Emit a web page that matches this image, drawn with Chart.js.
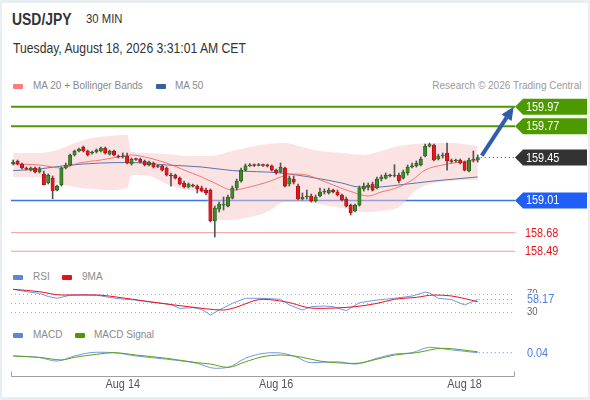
<!DOCTYPE html>
<html>
<head>
<meta charset="utf-8">
<script src="https://cdn.jsdelivr.net/npm/chart.js@4.4.0/dist/chart.umd.min.js"></script>
<style>
  body { margin: 0; width: 590px; height: 400px; background: #e9eef2; position: relative; overflow: hidden;
         font-family: "Liberation Sans", Arial, sans-serif; }
  #frame { position: absolute; left: 2px; top: 3px; width: 586px; height: 394px; background: #fff; }
  canvas { position: absolute; left: 0; }
  .t { position: absolute; white-space: nowrap; line-height: 1; transform: scaleX(.87); transform-origin: 0 0; }
  .sw { position: absolute; width: 10px; height: 5px; border-radius: 1px; }
</style>
</head>
<body>
<div id="frame"></div>

<div class="t" style="left:12px;top:11.5px;font-size:16px;font-weight:bold;color:#333">USD/JPY</div>
<div class="t" style="left:86px;top:12.3px;font-size:13px;color:#333">30 MIN</div>
<div class="t" style="left:13px;top:41.4px;font-size:14px;color:#333">Tuesday, August 18, 2026 3:31:01 AM CET</div>

<div class="sw" style="left:13px;top:84px;background:#ff7d7d"></div>
<div class="t" style="left:33px;top:80.3px;font-size:11.5px;color:#8a8a8a">MA 20 + Bollinger Bands</div>
<div class="sw" style="left:156px;top:84px;background:#3a5f9a"></div>
<div class="t" style="left:175px;top:80.3px;font-size:11.5px;color:#8a8a8a">MA 50</div>
<div class="t" style="right:9px;top:80.3px;font-size:11.5px;color:#9a9a9a;transform-origin:100% 0">Research © 2026 Trading Central</div>

<div class="sw" style="left:13px;top:275px;background:#5a86e0"></div>
<div class="t" style="left:33px;top:271px;font-size:11.5px;color:#8a8a8a">RSI</div>
<div class="sw" style="left:62px;top:275px;background:#e8101a"></div>
<div class="t" style="left:82px;top:271px;font-size:11.5px;color:#8a8a8a">9MA</div>

<div class="sw" style="left:13px;top:332.5px;background:#5a86e0"></div>
<div class="t" style="left:33px;top:328.6px;font-size:11.5px;color:#8a8a8a">MACD</div>
<div class="sw" style="left:75px;top:332.5px;background:#4c9a00"></div>
<div class="t" style="left:94px;top:328.6px;font-size:11.5px;color:#8a8a8a">MACD Signal</div>

<canvas id="main" width="590" height="180" style="top:90px"></canvas>
<canvas id="rsi" width="590" height="45" style="top:280px"></canvas>
<canvas id="macd" width="590" height="60" style="top:338px"></canvas>

<script>
// ---- candles (30 min bars, index 0..106) ----
const opens = [159.384,159.415,159.384,159.343,159.322,159.343,159.302,159.281,159.189,159.24,
  159.117,159.169,159.343,159.374,159.476,159.517,159.558,159.517,159.497,159.507,
  159.517,159.548,159.486,159.517,159.466,159.456,159.466,159.384,159.435,159.435,
  159.415,159.374,159.394,159.364,159.364,159.343,159.271,159.271,159.24,159.189,
  159.148,159.169,159.158,159.138,159.117,159.117,158.8,158.922,158.963,158.953,
  159.035,159.138,159.21,159.322,159.364,159.374,159.369,159.374,159.369,159.364,
  159.322,159.302,159.343,159.179,159.23,159.158,159.025,159.046,159.056,159.005,
  159.056,159.097,159.087,159.117,159.097,159.066,159.025,158.963,158.902,158.963,
  159.128,159.148,159.179,159.138,159.23,159.24,159.271,159.261,159.271,159.24,
  159.292,159.353,159.364,159.374,159.466,159.568,159.579,159.435,159.466,159.497,
  159.415,159.415,159.425,159.404,159.312,159.425,159.425];
const highs = [159.425,159.425,159.394,159.353,159.353,159.353,159.353,159.312,159.281,159.261,
  159.169,159.353,159.394,159.486,159.527,159.548,159.568,159.527,159.517,159.538,
  159.558,159.558,159.527,159.527,159.476,159.497,159.497,159.445,159.445,159.445,
  159.425,159.415,159.404,159.374,159.374,159.353,159.292,159.281,159.251,159.21,
  159.189,159.179,159.169,159.158,159.138,159.128,158.953,158.994,159.046,159.066,
  159.158,159.23,159.343,159.384,159.389,159.384,159.389,159.384,159.384,159.374,
  159.333,159.394,159.353,159.261,159.261,159.179,159.087,159.117,159.076,159.066,
  159.138,159.128,159.138,159.128,159.117,159.076,159.046,158.974,158.974,159.158,
  159.189,159.189,159.199,159.251,159.271,159.292,159.281,159.377,159.292,159.322,
  159.374,159.394,159.415,159.456,159.589,159.599,159.589,159.486,159.497,159.599,
  159.435,159.435,159.435,159.415,159.445,159.517,159.476];
const lows = [159.374,159.374,159.333,159.322,159.312,159.292,159.292,159.169,159.179,159.028,
  159.107,159.158,159.333,159.364,159.466,159.507,159.507,159.466,159.486,159.497,
  159.507,159.486,159.476,159.466,159.445,159.445,159.384,159.374,159.42,159.394,
  159.364,159.364,159.343,159.348,159.312,159.261,159.158,159.23,159.169,159.138,
  159.138,159.148,159.087,159.097,159.066,158.79,158.636,158.892,158.912,158.943,
  159.025,159.117,159.199,159.312,159.358,159.358,159.364,159.358,159.353,159.312,
  159.281,159.292,159.148,159.158,159.179,159.015,159.015,159.025,158.994,158.994,
  159.046,159.076,159.076,159.087,159.056,159.005,158.943,158.861,158.892,158.953,
  159.107,159.117,159.107,159.128,159.21,159.23,159.251,159.251,159.189,159.23,
  159.271,159.343,159.353,159.364,159.456,159.558,159.415,159.425,159.445,159.322,
  159.394,159.404,159.384,159.312,159.302,159.404,159.404];
const closes = [159.404,159.384,159.343,159.333,159.343,159.302,159.333,159.172,159.271,159.107,
  159.158,159.343,159.374,159.476,159.517,159.538,159.517,159.476,159.507,159.527,
  159.548,159.497,159.517,159.476,159.456,159.466,159.394,159.435,159.43,159.404,
  159.374,159.404,159.353,159.358,159.322,159.271,159.261,159.24,159.179,159.148,
  159.179,159.158,159.128,159.107,159.087,158.8,158.933,158.974,158.969,159.046,
  159.138,159.21,159.322,159.364,159.374,159.369,159.374,159.369,159.364,159.322,
  159.292,159.353,159.158,159.24,159.199,159.025,159.046,159.056,159.005,159.046,
  159.097,159.107,159.117,159.097,159.066,159.015,158.953,158.882,158.963,159.138,
  159.158,159.169,159.117,159.23,159.251,159.271,159.261,159.271,159.21,159.302,
  159.353,159.364,159.394,159.435,159.568,159.584,159.425,159.466,159.471,159.415,
  159.41,159.42,159.394,159.322,159.425,159.435,159.45];

// ---- overlays ----
const ma20Idx = [0,6,11,15,20,24,27,31,35,39,43,46,50,54,58,64,67,69,73,78,81,84,88,91,94,98,102,106];
const ma20 = [159.384,159.374,159.343,159.394,159.425,159.456,159.476,159.445,159.394,159.322,159.251,159.189,
  159.117,159.148,159.199,159.281,159.271,159.24,159.169,159.087,159.056,159.097,159.148,159.22,159.322,159.374,159.404,159.425];
const ma50Idx = [0,6,12,20,27,35,43,50,61,69,75,79,83,88,96,106];
const ma50 = [159.317,159.333,159.369,159.394,159.399,159.374,159.353,159.317,159.292,159.24,159.189,159.148,159.148,159.169,159.21,159.251];
const bandIdx = [0,6,10,14,18,22,26,27,31,35,40,44,45,50,54,58,62,66,70,75,80,84,88,92,96,100,106];
const bbUpper = [159.497,159.497,159.527,159.599,159.65,159.671,159.681,159.507,159.497,159.486,159.466,159.466,159.466,
  159.517,159.558,159.589,159.599,159.558,159.517,159.497,159.476,159.517,159.568,159.589,159.599,159.599,159.568];
const bbLower = [159.251,159.251,159.189,159.148,159.128,159.117,159.138,159.271,159.261,159.179,159.117,159.087,158.81,
  158.81,158.841,158.892,158.994,158.994,158.974,158.933,158.892,158.902,158.943,159.117,159.189,159.21,159.22];

// ---- levels & projection ----
const levels = [159.97, 159.77, 159.01, 158.68, 158.49];
const arrowTo = [114.2, 159.97];

// ---- RSI ----
const rsiIdx = [0,3,6,8,10,13,16,19,22,25,28,31,33,36,38,41,43,45,47,50,53,57,61,63,66,68,71,73,76,79,83,87,91,94,95,97,100,103,106];
const rsi = [81.3,76,72,65,61,68,69,68,63,59,57,53,51,47,38,40,36,23.2,34.5,49.5,61,61,58.7,46,34.5,42,43.6,42,33,
  51,57,61,66,75,73,61,58,46,58.17];
const rsiMaIdx = [0,6,11,19,23,31,40,48,50,57,62,69,78,83,87,92,96,100,106];
const rsiMa = [81.3,75.9,68.4,68.4,64.6,53.3,42,34.5,38.2,58.7,53.3,38.2,42,49.5,58.7,63.1,68.4,66.2,53.3];
const rsiGuides = [30, 50, 70];

// ---- MACD ----
const macdIdx = [0,6,10,14,19,23,28,35,42,46,49,53,57,60,64,68,74,78,83,87,91,95,100,106];
const macd = [0.026,0.019,0.004,0.026,0.042,0.04,0.026,0.012,-0.006,-0.027,-0.023,0.016,0.037,0.04,0.026,-0.003,
  0.001,-0.009,0.016,0.034,0.04,0.063,0.052,0.04];
const signalIdx = [0,6,11,14,19,23,28,35,42,45,49,53,57,61,66,70,78,83,87,92,98,106];
const signal = [0.026,0.02,0.009,0.02,0.033,0.04,0.03,0.016,-0.003,-0.009,-0.023,0.001,0.023,0.03,0.02,0.004,
  -0.006,0.012,0.03,0.04,0.059,0.044];

// ---- x axis ----
const tickIdx = [25, 60, 103];
const tickLabels = ['Aug 14', 'Aug 16', 'Aug 18'];

// styles
const FONT = '"Liberation Sans", Arial, sans-serif';
const SQUEEZE = 0.87;
const UP = '#3c8a2a', UP_EDGE = '#24541a', DOWN = '#e5161e', DOWN_EDGE = '#a30d12';
const levelStyles = [
  { line: '#4c9a00', width: 2, tag: '#4c9a00' },
  { line: '#4c9a00', width: 2, tag: '#4c9a00' },
  { line: '#3b73e8', width: 1.5, tag: '#1f5ff5' },
  { line: '#f49a9a', width: 1, text: '#e8141c' },
  { line: '#f49a9a', width: 1, text: '#e8141c' }
];

Chart.defaults.font.family = FONT;

function pts(idx, vals) {
  return idx.map((x, k) => ({ x: x, y: vals[k] }));
}

function label(ctx, text, x, y, color, size, align) {
  ctx.save();
  ctx.translate(x, y);
  ctx.scale(SQUEEZE, 1);
  ctx.font = size + 'px ' + FONT;
  ctx.fillStyle = color;
  ctx.textAlign = align || 'left';
  ctx.textBaseline = 'middle';
  ctx.fillText(text, 0, 0);
  ctx.restore();
}

function tag(ctx, x, py, color, text) {
  ctx.fillStyle = color;
  ctx.beginPath();
  ctx.moveTo(x, py);
  ctx.lineTo(x + 8, py - 8);
  ctx.lineTo(x + 72, py - 8);
  ctx.lineTo(x + 72, py + 8);
  ctx.lineTo(x + 8, py + 8);
  ctx.closePath();
  ctx.fill();
  label(ctx, text, x + 11, py + 0.5, '#fff', 12.5);
}

function dotted(ctx, x0, x1, py, color) {
  ctx.save();
  ctx.strokeStyle = color;
  ctx.lineWidth = 1;
  ctx.setLineDash([1, 3]);
  ctx.beginPath();
  ctx.moveTo(x0, py);
  ctx.lineTo(x1, py);
  ctx.stroke();
  ctx.restore();
}

function baseOptions(yMin, yMax, pad) {
  return {
    responsive: false,
    animation: false,
    events: [],
    layout: { padding: pad },
    plugins: { legend: { display: false }, tooltip: { enabled: false } },
    scales: {
      x: { type: 'linear', min: -0.5, max: 114.5, offset: false, display: false },
      y: { min: yMin, max: yMax, display: false }
    }
  };
}

function lineSet(data, color, order, extra) {
  return Object.assign({
    type: 'line', data: data, borderColor: color, borderWidth: 1,
    pointRadius: 0, cubicInterpolationMode: 'monotone', fill: false, order: order
  }, extra || {});
}

// ---------- main price chart ----------
const mainDecor = {
  id: 'mainDecor',
  beforeDatasetsDraw(chart) {
    const { ctx, chartArea: a, scales: { y } } = chart;
    levels.forEach((v, k) => {
      const st = levelStyles[k];
      const py = y.getPixelForValue(v);
      ctx.save();
      ctx.strokeStyle = st.line;
      ctx.lineWidth = st.width;
      ctx.beginPath();
      ctx.moveTo(a.left, py);
      ctx.lineTo(a.right, py);
      ctx.stroke();
      ctx.restore();
    });
  },
  afterDraw(chart) {
    const { ctx, chartArea: a, scales: { x, y } } = chart;
    const last = closes.length - 1;
    const lx = x.getPixelForValue(last);
    const ly = y.getPixelForValue(closes[last]);

    levels.forEach((v, k) => {
      const st = levelStyles[k];
      const py = y.getPixelForValue(v);
      if (st.tag) tag(ctx, a.right, py, st.tag, v.toFixed(2));
      else label(ctx, v.toFixed(2), a.right + 10, py + 0.5, st.text, 12.5);
    });

    dotted(ctx, lx + 3, a.right - 1, ly, '#444');
    tag(ctx, a.right, ly, '#333', closes[last].toFixed(2));

    // projection arrow
    const x0 = lx + 4, y0 = ly - 2;
    const x1 = x.getPixelForValue(arrowTo[0]), y1 = y.getPixelForValue(arrowTo[1]);
    const ang = Math.atan2(y1 - y0, x1 - x0);
    const head = 13, half = 6;
    const bx = x1 - head * Math.cos(ang), by = y1 - head * Math.sin(ang);
    ctx.save();
    ctx.strokeStyle = '#2e5eaa';
    ctx.fillStyle = '#2e5eaa';
    ctx.lineWidth = 4;
    ctx.beginPath();
    ctx.moveTo(x0, y0);
    ctx.lineTo(bx, by);
    ctx.stroke();
    ctx.beginPath();
    ctx.moveTo(x1, y1);
    ctx.lineTo(bx + half * Math.sin(ang), by - half * Math.cos(ang));
    ctx.lineTo(bx - half * Math.sin(ang), by + half * Math.cos(ang));
    ctx.closePath();
    ctx.fill();
    ctx.restore();
  }
};

const up = closes.map((c, i) => c >= opens[i]);

new Chart(document.getElementById('main'), {
  type: 'bar',
  data: {
    datasets: [
      {
        type: 'bar', order: 1, grouped: false, barThickness: 3.4, minBarLength: 1,
        data: closes.map((c, i) => ({ x: i, y: [opens[i], c] })),
        backgroundColor: up.map(u => u ? UP : DOWN),
        borderColor: up.map(u => u ? UP_EDGE : DOWN_EDGE),
        borderWidth: 0.7, borderSkipped: false
      },
      {
        type: 'bar', order: 2, grouped: false, barThickness: 1,
        data: highs.map((h, i) => ({ x: i, y: [lows[i], h] })),
        backgroundColor: '#555'
      },
      lineSet(pts(ma20Idx, ma20), 'rgba(240,100,100,0.85)', 5),
      lineSet(pts(ma50Idx, ma50), 'rgba(70,105,165,0.9)', 5),
      lineSet(pts(bandIdx, bbUpper), 'rgba(0,0,0,0)', 10,
        { borderWidth: 0, fill: '+1', backgroundColor: 'rgba(250,200,200,0.5)' }),
      lineSet(pts(bandIdx, bbLower), 'rgba(0,0,0,0)', 10, { borderWidth: 0 })
    ]
  },
  options: baseOptions(158.40, 160.04, { left: 11, right: 75, top: 10, bottom: 10 }),
  plugins: [mainDecor]
});

// ---------- RSI ----------
const rsiDecor = {
  id: 'rsiDecor',
  beforeDatasetsDraw(chart) {
    const { ctx, chartArea: a, scales: { y } } = chart;
    rsiGuides.forEach(g => dotted(ctx, a.left, a.right, Math.round(y.getPixelForValue(g)) + 0.5, '#b5b5b5'));
  },
  afterDraw(chart) {
    const { ctx, chartArea: a, scales: { x, y } } = chart;
    rsiGuides.forEach(g => label(ctx, String(g), a.right + 12, y.getPixelForValue(g), '#666', 11));
    const v = rsi[rsi.length - 1];
    const py = y.getPixelForValue(v);
    dotted(ctx, x.getPixelForValue(rsiIdx[rsiIdx.length - 1]) + 1, a.right - 2, py, '#5a86e0');
    ctx.fillStyle = '#fff';
    ctx.fillRect(a.right + 6, py - 6.5, 48, 13);
    label(ctx, v.toFixed(2), a.right + 12, py + 0.5, '#4f7fe0', 12.5);
  }
};

new Chart(document.getElementById('rsi'), {
  type: 'line',
  data: {
    datasets: [
      lineSet(pts(rsiIdx, rsi), '#7397e6', 2, { cubicInterpolationMode: 'default', tension: 0 }),
      lineSet(pts(rsiMaIdx, rsiMa), '#e8101a', 1)
    ]
  },
  options: baseOptions(16.44, 88.76, { left: 11, right: 75, top: 6, bottom: 7 }),
  plugins: [rsiDecor]
});

// ---------- MACD + x axis ----------
const macdDecor = {
  id: 'macdDecor',
  afterDraw(chart) {
    const { ctx, chartArea: a, scales: { x, y } } = chart;
    const v = macd[macd.length - 1];
    const py = y.getPixelForValue(v);
    dotted(ctx, x.getPixelForValue(macdIdx[macdIdx.length - 1]) + 1, a.right - 2, py, '#5a86e0');
    label(ctx, v.toFixed(2), a.right + 12, py + 0.5, '#4f7fe0', 12.5);

    // time axis
    const ay = a.bottom + 4.5;
    ctx.save();
    ctx.strokeStyle = '#a0a0a0';
    ctx.lineWidth = 1;
    ctx.beginPath();
    ctx.moveTo(a.left + 0.5, ay - 5);
    ctx.lineTo(a.left + 0.5, ay);
    ctx.lineTo(a.right - 0.5, ay);
    ctx.lineTo(a.right - 0.5, ay - 5);
    ctx.stroke();
    ctx.restore();
    tickIdx.forEach((t, k) => label(ctx, tickLabels[k], x.getPixelForValue(t), a.bottom + 12.5, '#555', 12.5, 'center'));
  }
};

new Chart(document.getElementById('macd'), {
  type: 'line',
  data: {
    datasets: [
      lineSet(pts(macdIdx, macd), '#7397e6', 2),
      lineSet(pts(signalIdx, signal), '#5aa214', 1)
    ]
  },
  options: baseOptions(-0.04301, 0.07742, { left: 11, right: 75, top: 6, bottom: 26 }),
  plugins: [macdDecor]
});
</script>
</body>
</html>
